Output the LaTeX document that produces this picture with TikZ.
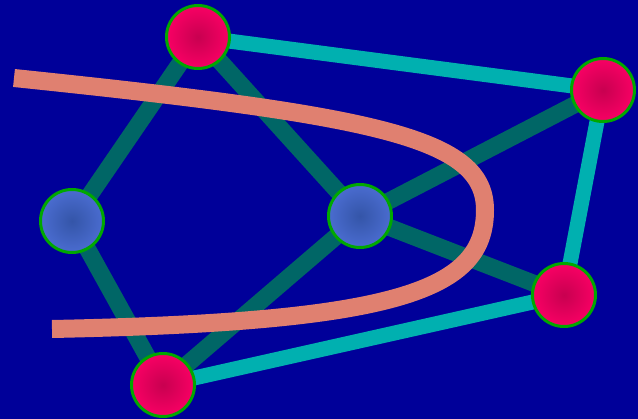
\documentclass[tikz,border=0pt]{standalone}
\definecolor{bg}{HTML}{000099}
\definecolor{darkteal}{HTML}{006666}
\definecolor{lightteal}{HTML}{00B0B0}
\definecolor{salmon}{HTML}{E08070}
\definecolor{ringgreen}{HTML}{00A800}
\definecolor{redin}{HTML}{C80050}
\definecolor{redout}{HTML}{F80064}
\definecolor{bluein}{HTML}{3455A8}
\definecolor{blueout}{HTML}{4A6CD0}
\begin{document}
\begin{tikzpicture}[x=1pt,y=-1pt,
  rednode/.style={circle,minimum size=63pt,inner sep=0pt,draw=ringgreen,line width=3pt,inner color=redin,outer color=redout},
  bluenode/.style={circle,minimum size=63pt,inner sep=0pt,draw=ringgreen,line width=3pt,inner color=bluein,outer color=blueout},
  darkedge/.style={draw=darkteal,line width=17pt},
  lightedge/.style={draw=lightteal,line width=15pt},
  curveline/.style={draw=salmon,line width=18pt}]
\fill[bg] (0,0) rectangle (638,419);
\useasboundingbox (0,0) rectangle (638,419);
\coordinate (a) at (198,37);
\coordinate (b) at (603,90);
\coordinate (c) at (564,295);
\coordinate (d) at (163,385);
\coordinate (e) at (72,221);
\coordinate (f) at (360,216);
\coordinate (s) at (14,78);
\coordinate (m) at (485,210);
\coordinate (t) at (52,329);
\path[darkedge] (a) -- (e) (a) -- (f) (e) -- (d) (f) -- (d) (f) -- (b) (f) -- (c);
\path[lightedge] (a) -- (b) (b) -- (c) (c) -- (d);
\path[curveline] (s) .. controls (380,116) and (485,138) .. (m) .. controls (485,290) and (400,322) .. (t);
\node[rednode] (na) at (a) {};
\node[rednode] (nb) at (b) {};
\node[rednode] (nc) at (c) {};
\node[rednode] (nd) at (d) {};
\node[bluenode] (ne) at (e) {};
\node[bluenode] (nf) at (f) {};
\end{tikzpicture}
\end{document}
